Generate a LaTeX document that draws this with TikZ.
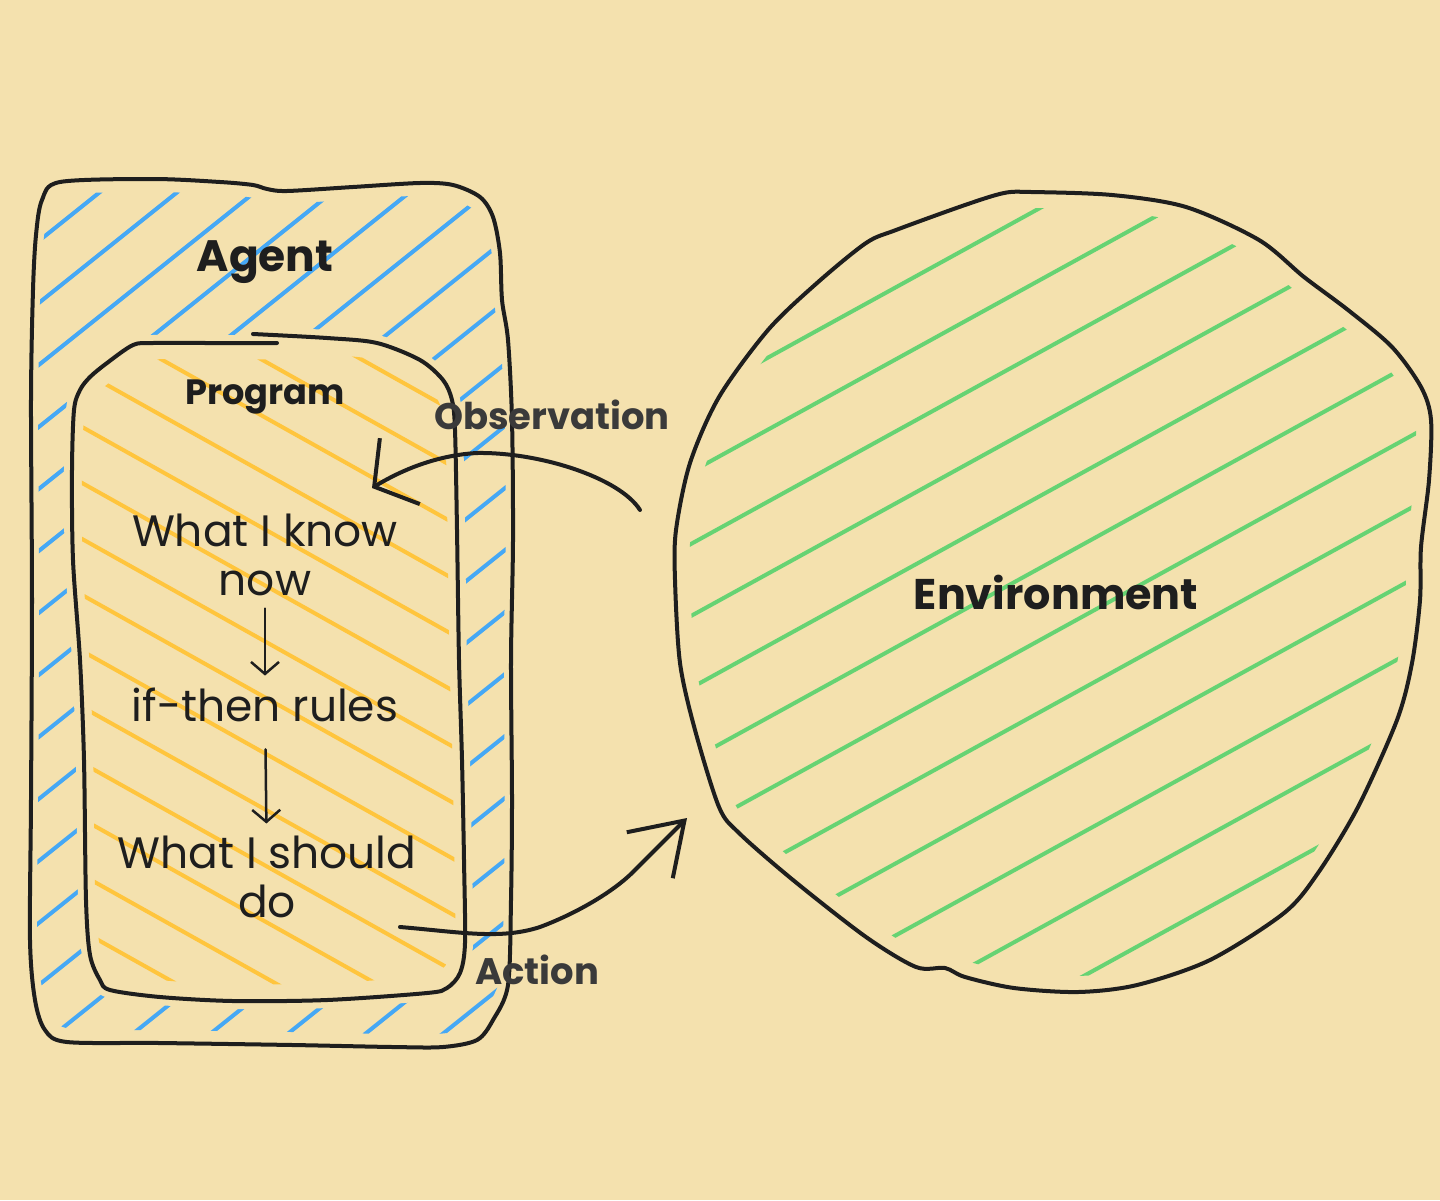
\documentclass[tikz,border=0pt]{standalone}
\usepackage{fontspec}
\setmainfont{Poppins}
\usetikzlibrary{arrows.meta}

\definecolor{paper}{HTML}{F4E1AE}
\definecolor{ink}{HTML}{1E1E1E}
\definecolor{hatchblue}{HTML}{45A8F5}
\definecolor{hatchorange}{HTML}{FFC53D}
\definecolor{hatchgreen}{HTML}{66D373}
\definecolor{labelgray}{HTML}{3A3A3A}

\tikzstyle{outline} = [draw=ink, line width=0.04cm, line cap=round, line join=round]
\tikzstyle{hatch} = [line width=0.04cm, line cap=round]
\tikzstyle{boldlabel} = [text=ink, font=\fontsize{12.5}{15}\selectfont\bfseries]
\tikzstyle{stepline} = [text=ink, align=center, font=\fontsize{12.5}{14}\selectfont]
\tikzstyle{flowlabel} = [text=labelgray, font=\fontsize{10.5}{12}\selectfont\bfseries]
\tikzstyle{thinarrow} = [draw=ink, line width=0.025cm, line cap=round, -{Straight Barb[length=1.2mm,width=2.8mm]}]
\tikzstyle{obsarrow} = [draw=ink, line width=0.04cm, line cap=round, -{Straight Barb[length=3mm,width=7.7mm]}]
\tikzstyle{actarrow} = [draw=ink, line width=0.04cm, line cap=round, -{Straight Barb[length=4.9mm,width=6.5mm]}]

% hand drawn outlines
\def\agentshape{plot[smooth cycle] coordinates {(60,182) (153,179) (220,182) (253,185) (267,189) (287,191) (353,187) (420,183) (453,185) (480,197) (493,217) (500,253) (502,300) (508,340) (512,420) (513,540) (511,660) (512,800) (511,900) (508,985) (493,1020) (477,1040) (443,1047) (393,1047) (293,1045) (160,1043) (67,1042) (45,1030) (35,1000) (30,940) (31,800) (32,600) (31,400) (33,290) (36,235) (42,200)}}
\def\programshape{plot[smooth] coordinates {(253,334) (327,338) (377,343) (420,360) (443,380) (452,400) (455,430) (457,530) (459,660) (462,760) (464,860) (465,943) (460,973) (447,988) (427,993) (327,1000) (233,1001) (160,997) (110,990) (100,980) (90,955) (86,900) (84,760) (80,660) (73,560) (72,470) (74,410) (80,390) (90,377) (107,363) (133,345) (153,343) (210,343) (277,343)}}
\def\envshape{plot[smooth cycle] coordinates {(1004,193) (1031,192) (1112,195) (1186,207) (1259,240) (1304,277) (1348,310) (1392,347) (1421,387) (1431,420) (1429,480) (1421,547) (1420,600) (1412,663) (1397,720) (1358,807) (1318,873) (1284,913) (1210,960) (1137,985) (1078,992) (1014,988) (965,977) (945,968) (916,967) (866,937) (793,880) (739,833) (719,807) (695,730) (680,663) (675,580) (676,530) (690,463) (719,397) (768,330) (817,283) (866,243) (896,230) (965,205)}}

\begin{document}
\begin{tikzpicture}[x=0.01cm, y=-0.01cm]
\fill[paper] (0,0) rectangle (1440,1200);
\useasboundingbox (0,0) rectangle (1440,1200);

% hachures
\begin{scope}
\clip[shift={(270,612)}, scale=0.97, shift={(-270,-612)}] \agentshape;
\foreach \c in {210,272,...,1480}
  \draw[hatch, hatchblue] (0,\c) -- (600,\c-480);
\end{scope}
\fill[paper] \programshape;
\draw[paper, line width=0.16cm] \programshape;
\begin{scope}
\clip[shift={(268,668)}, scale=0.95, shift={(-268,-668)}] \programshape;
\foreach \c in {45,101,...,1000}
  \draw[hatch, hatchorange] (0,\c) -- (600,\c+336);
\end{scope}
\begin{scope}
\clip[shift={(1052,592)}, scale=0.96, shift={(-1052,-592)}] \envshape;
\foreach \c in {780,852,...,1580}
  \draw[hatch, hatchgreen] (600,\c-330) -- (1480,\c-814);
\end{scope}

\draw[outline] \agentshape;
\draw[outline] \programshape;
\draw[outline] \envshape;

% labels
\node (agent) [boldlabel] at (265,262) {Agent};
\node (program) [boldlabel, font=\fontsize{10}{12}\selectfont\bfseries] at (265,397) {Program};
\node (know) [stepline] at (265,555) {What I know\\now};
\node (rules) [stepline] at (265,705) {if-then rules};
\node (should) [stepline] at (267,877) {What I should\\do};
\node (env) [boldlabel, font=\fontsize{12.2}{15}\selectfont\bfseries] at (1056,592) {Environment};
\node (obs) [flowlabel] at (552,415) {Observation};
\node (act) [flowlabel] at (537,970) {Action};

\draw[thinarrow] (know) -- (rules);
\draw[thinarrow, shorten <=0.15cm] (rules) -- (should);

% observation and action
\coordinate (obsStart) at (640,510);
\coordinate (obsEnd) at (372,488);
\coordinate (actStart) at (400,927);
\coordinate (actEnd) at (687,818);
\draw[obsarrow] (obsStart) .. controls (620,478) and (540,452) .. (477,453) .. controls (440,455) and (405,468) .. (obsEnd);
\draw[actarrow] (actStart) .. controls (460,932) and (500,940) .. (540,927) .. controls (580,912) and (615,890) .. (633,872) .. controls (650,855) and (665,840) .. (actEnd);
\end{tikzpicture}
\end{document}
